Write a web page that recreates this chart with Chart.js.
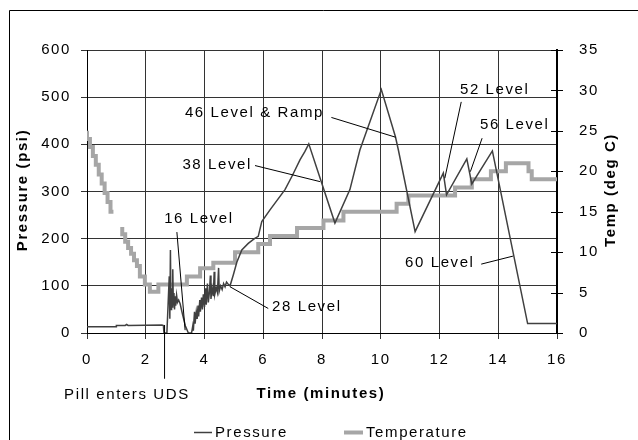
<!DOCTYPE html>
<html>
<head>
  <title>Pressure and temperature</title>
  <script src="https://cdn.jsdelivr.net/npm/chart.js"></script>
  <style>
    body { margin: 0; padding: 0; background: #fff; }
    #chart { display: block; }
  </style>
</head>
<body>
  <canvas id="chart" width="638" height="440"></canvas>
  <script>
    // Pressure trace (minutes, psi)
    const pressureTime = [
      0, 0.99, 1.0, 1.3, 1.35, 1.4, 2.55, 2.6, 2.62, 2.72,
      2.76, 2.80, 2.82, 2.84, 2.86, 2.88, 2.90, 2.92, 2.94, 2.96, 2.98, 3.00, 3.02, 3.05, 3.08, 3.12, 3.17, 3.25, 3.35, 3.45,
      3.56, 3.60, 3.62, 3.66, 3.68, 3.72, 3.75, 3.78, 3.80, 3.84, 3.86, 3.90, 3.93, 3.96, 4.00, 4.04, 4.06, 4.10, 4.13, 4.17,
      4.20, 4.22, 4.26, 4.30, 4.33, 4.35, 4.40, 4.44, 4.48, 4.50, 4.55, 4.60, 4.65, 4.70, 4.75, 4.80, 4.87,
      4.98, 5.1, 5.27, 5.49, 5.7, 5.83, 5.95, 6.23, 6.74, 7.0, 7.25, 7.42, 7.55, 8.44, 8.95, 9.29, 10.02,
      10.5, 10.6, 11.17, 12.13, 12.24, 12.93, 13.1, 13.8, 15.0, 16
    ];
    const pressureValue = [
      13, 13, 16, 16, 18, 16, 17, 16, 0, 0,
      60, 120, 30, 176, 50, 95, 55, 135, 60, 85, 50, 78, 58, 80, 65, 70, 62, 40, 15, 0,
      0, 15, 5, 45, 20, 45, 30, 58, 35, 70, 45, 75, 50, 82, 55, 95, 60, 105, 65, 88,
      122, 72, 95, 78, 130, 82, 96, 86, 138, 88, 100, 92, 105, 98, 108, 104, 100,
      123, 150, 176, 190, 200, 205, 236, 261, 304, 335, 367, 385, 401, 233, 304, 388, 516,
      416, 388, 215, 339, 293, 369, 316, 386, 20, 20
    ];

    // Temperature trace (minutes, deg C), null = no reading
    const tempTime = [
      0, 0.1, 0.2, 0.3, 0.4, 0.5, 0.6, 0.7, 0.8, 0.9, 0.95,
      1.2, 1.3, 1.4, 1.5, 1.6, 1.7, 1.8, 1.97, 2.14, 2.43,
      3.4, 3.85, 4.3, 5.04, 5.83, 6.23, 7.15, 8.05, 8.73, 10.54, 10.94,
      12.53, 13.1, 13.75, 14.26, 15.03, 15.14, 15.48, 16
    ];
    const tempValue = [
      25, 24, 23, 21.9, 20.8, 19.6, 18.5, 17.3, 16.2, 15.0, null,
      13.1, 12.2, 11.3, 10.5, 9.8, 9.0, 8.3, 7.0, 6.0, 5.1,
      6.0, 7.0, 8.0, 8.7, 10.0, 11.0, 12.0, 13.0, 13.9, 15.0, 16.0,
      17.0, 18.0, 19.0, 20.0, 21.0, 20.0, 19.0, 19.0
    ];

    // Labels with leader lines, in data units (minutes, psi)
    const notes = [
      { text: "16 Level", x: 3.81, y: 242, from: [3.06, 214], to: [3.34, 6], align: "center" },
      { text: "Pill enters UDS", x: 1.36, y: -131, from: [2.64, 17], to: [2.64, -97], align: "center" },
      { text: "28 Level", x: 6.3, y: 55, from: [4.87, 98], to: [6.17, 52], align: "left" },
      { text: "38 Level", x: 4.43, y: 356, from: [5.72, 355], to: [7.93, 321], align: "center" },
      { text: "46 Level & Ramp", x: 5.70, y: 466, from: [8.32, 457], to: [10.51, 415], align: "center" },
      { text: "52 Level", x: 13.88, y: 515, from: [12.74, 490], to: [12.18, 328], align: "center" },
      { text: "56 Level", x: 14.56, y: 441, from: [13.45, 413], to: [13.05, 342], align: "center" },
      { text: "60 Level", x: 12.01, y: 148, from: [13.42, 146], to: [14.5, 163], align: "center" }
    ];

    const FONT = "'Liberation Sans', Arial, sans-serif";
    const SPACING = "1.6px";

    const pressurePoints = pressureTime.map((t, i) => ({ x: t, y: pressureValue[i] }));
    const tempPoints = tempTime.map((t, i) => ({ x: t, y: tempValue[i] }));

    const extras = {
      id: "extras",
      beforeDraw(chart) {
        chart.ctx.letterSpacing = SPACING;
      },
      afterDraw(chart) {
        const ctx = chart.ctx;
        const xs = chart.scales.x, ys = chart.scales.y, y2 = chart.scales.y2;
        const area = chart.chartArea;
        ctx.save();
        ctx.letterSpacing = SPACING;

        // outer frame
        ctx.strokeStyle = "#000";
        ctx.lineWidth = 1;
        ctx.beginPath();
        ctx.moveTo(9.5, 440);
        ctx.lineTo(9.5, 10.5);
        ctx.lineTo(638, 10.5);
        ctx.stroke();

        // crossing ticks on right axis
        ctx.beginPath();
        for (let v = 0; v <= 35; v += 5) {
          const py = Math.round(y2.getPixelForValue(v)) + 0.5;
          ctx.moveTo(area.right - 6, py);
          ctx.lineTo(area.right + 6, py);
        }
        ctx.stroke();

        // annotations
        ctx.font = "15px " + FONT;
        ctx.fillStyle = "#000";
        ctx.textBaseline = "middle";
        notes.forEach(n => {
          ctx.beginPath();
          ctx.moveTo(xs.getPixelForValue(n.from[0]), ys.getPixelForValue(n.from[1]));
          ctx.lineTo(xs.getPixelForValue(n.to[0]), ys.getPixelForValue(n.to[1]));
          ctx.stroke();
          ctx.textAlign = n.align;
          ctx.fillText(n.text, xs.getPixelForValue(n.x), ys.getPixelForValue(n.y));
        });

        // axis titles
        ctx.font = "bold 15px " + FONT;
        ctx.textAlign = "center";
        ctx.fillText("Time (minutes)", 321, 394);
        ctx.save();
        ctx.translate(23, 190);
        ctx.rotate(-Math.PI / 2);
        ctx.fillText("Pressure (psi)", 0, 0);
        ctx.restore();
        ctx.save();
        ctx.translate(611, 190);
        ctx.rotate(-Math.PI / 2);
        ctx.fillText("Temp (deg C)", 0, 0);
        ctx.restore();

        // legend
        const ly = 432.5;
        ctx.lineWidth = 1.5;
        ctx.strokeStyle = "#404040";
        ctx.beginPath(); ctx.moveTo(194, ly); ctx.lineTo(212, ly); ctx.stroke();
        ctx.lineWidth = 4;
        ctx.strokeStyle = "#a6a6a6";
        ctx.beginPath(); ctx.moveTo(344, ly); ctx.lineTo(363, ly); ctx.stroke();
        ctx.font = "15px " + FONT;
        ctx.textAlign = "left";
        ctx.fillText("Pressure", 215, ly);
        ctx.fillText("Temperature", 366, ly);
        ctx.restore();
      }
    };

    new Chart(document.getElementById("chart"), {
      type: "line",
      data: {
        datasets: [
          {
            label: "Pressure",
            data: pressurePoints,
            borderColor: "#404040",
            borderWidth: 1.5,
            pointRadius: 0,
            yAxisID: "y"
          },
          {
            label: "Temperature",
            data: tempPoints,
            borderColor: "#a6a6a6",
            borderWidth: 4,
            pointRadius: 0,
            stepped: "after",
            spanGaps: false,
            yAxisID: "y2"
          }
        ]
      },
      options: {
        responsive: false,
        animation: false,
        layout: { padding: { top: 50, left: 0, right: 0, bottom: 0 } },
        plugins: {
          legend: { display: false },
          tooltip: { enabled: false }
        },
        scales: {
          x: {
            type: "linear",
            min: 0,
            max: 16,
            ticks: { stepSize: 2, color: "#000", font: { family: FONT, size: 15 }, padding: 12, maxRotation: 0 },
            grid: { color: "#333", tickLength: 6 },
            border: { color: "#000" },
            afterFit(s) { s.height = 107; }
          },
          y: {
            min: 0,
            max: 600,
            ticks: { stepSize: 100, color: "#000", font: { family: FONT, size: 15 }, padding: 10 },
            grid: { color: "#333", tickLength: 6 },
            border: { color: "#000" },
            afterFit(s) { s.width = 87; }
          },
          y2: {
            position: "right",
            min: 0,
            max: 35,
            ticks: { stepSize: 5, color: "#000", font: { family: FONT, size: 15 }, padding: 14 },
            grid: { display: false },
            border: { color: "#000", width: 2 },
            afterFit(s) { s.width = 81; }
          }
        }
      },
      plugins: [extras]
    });
  </script>
</body>
</html>
